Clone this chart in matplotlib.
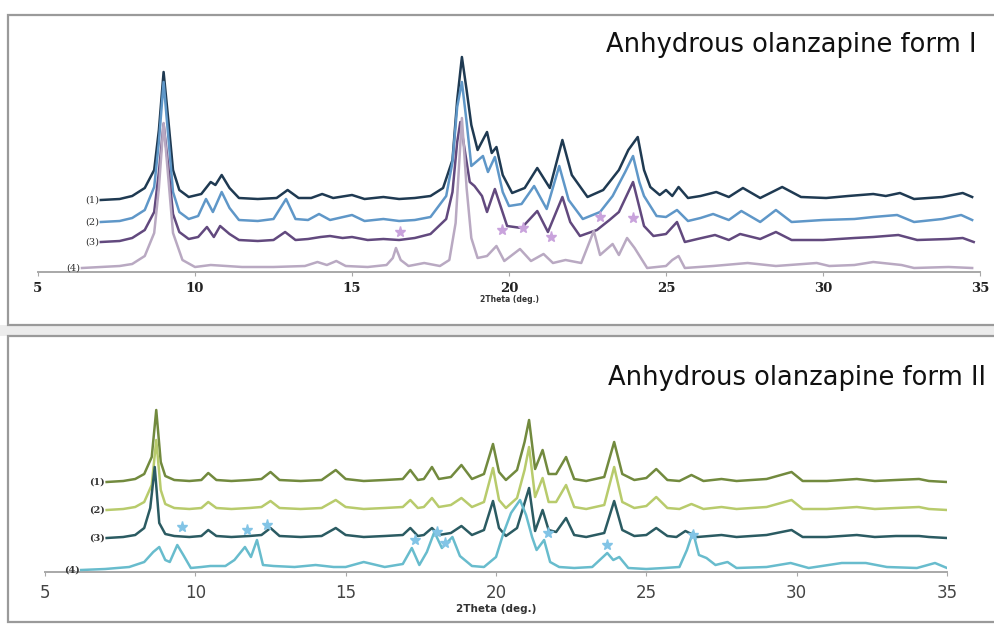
import numpy as np
import matplotlib
matplotlib.use("Agg")
import matplotlib.pyplot as plt
from matplotlib.patches import Rectangle

# ---- form I patterns: 2theta (deg) and intensity above each trace's baseline
f1_x1 = [7.0, 7.6, 8.0, 8.4, 8.7, 8.85, 9.0, 9.15, 9.3, 9.5, 9.8, 10.2, 10.5, 10.65, 10.85, 11.1, 11.4, 12.0,
         12.6, 12.95, 13.3, 13.7, 14.05, 14.4, 15.0, 15.4, 16.0, 16.5, 17.0, 17.5, 17.9, 18.2, 18.35, 18.5,
         18.65, 18.8, 19.0, 19.3, 19.45, 19.6, 19.8, 20.1, 20.5, 20.9, 21.3, 21.7, 22.0, 22.5, 23.0, 23.5,
         23.8, 24.1, 24.3, 24.5, 24.8, 25.0, 25.2, 25.4, 25.7, 26.1, 26.6, 27.0, 27.45, 28.0, 28.7, 29.3,
         30.1, 30.8, 31.6, 32.0, 32.45, 32.9, 33.8, 34.45, 34.75]
f1_y1 = [0, 1, 4, 12, 30, 70, 128, 80, 30, 10, 3, 6, 18, 15, 25, 12, 2, 1,
         2, 10, 2, 2, 6, 2, 5, 1, 3, 1, 2, 4, 12, 40, 100, 143,
         110, 75, 50, 68, 47, 53, 25, 7, 12, 32, 12, 60, 25, 3, 10, 30,
         50, 63, 30, 13, 5, 10, 4, 13, 2, 4, 8, 3, 12, 2, 13, 3,
         2, 4, 6, 4, 7, 1, 3, 7, 3]

f1_x2 = [7.0, 7.6, 8.0, 8.4, 8.7, 8.85, 9.0, 9.15, 9.3, 9.5, 9.8, 10.1, 10.35, 10.57, 10.85, 11.1, 11.4, 12.0,
         12.5, 12.9, 13.2, 13.6, 13.95, 14.3, 15.0, 15.4, 16.0, 16.5, 17.0, 17.5, 18.0, 18.2, 18.35, 18.5,
         18.65, 18.8, 19.17, 19.33, 19.55, 19.8, 20.0, 20.4, 20.8, 21.2, 21.6, 21.9, 22.35, 22.9, 23.3, 23.7,
         23.95, 24.15, 24.3, 24.7, 25.0, 25.35, 25.7, 26.1, 26.5, 27.0, 27.4, 28.0, 28.5, 29.0, 30.0, 31.0,
         31.6, 32.36, 32.9, 33.8, 34.4, 34.75]
f1_y2 = [0, 1, 4, 12, 35, 80, 140, 85, 30, 10, 3, 6, 23, 10, 30, 14, 2, 1,
         3, 23, 3, 2, 8, 2, 7, 1, 3, 1, 2, 5, 26, 60, 115, 140,
         100, 56, 66, 50, 65, 30, 16, 18, 36, 13, 56, 22, 3, 10, 26, 50,
         66, 40, 26, 6, 5, 12, 1, 4, 8, 2, 11, 0, 12, 0, 2, 3,
         5, 7, 0, 3, 7, 2]

f1_x3 = [7.0, 7.6, 8.0, 8.4, 8.7, 8.85, 9.0, 9.15, 9.3, 9.5, 9.8, 10.1, 10.38, 10.6, 10.8, 11.1, 11.4, 12.0,
         12.5, 12.87, 13.2, 13.6, 14.0, 14.3, 14.7, 15.0, 15.5, 16.0, 16.5, 17.0, 17.5, 18.0, 18.2, 18.35,
         18.45, 18.6, 18.75, 18.9, 19.14, 19.3, 19.55, 19.94, 20.4, 20.9, 21.24, 21.7, 21.95, 22.26, 22.8,
         23.2, 23.5, 23.95, 24.15, 24.3, 24.6, 25.0, 25.35, 25.6, 26.0, 26.56, 27.0, 27.36, 28.0, 28.5, 29.0,
         30.0, 31.0, 31.6, 32.4, 33.0, 34.0, 34.45, 34.8]
f1_y3 = [0, 1, 4, 12, 30, 70, 118, 75, 28, 10, 3, 5, 15, 5, 16, 8, 2, 1,
         2, 10, 2, 3, 5, 6, 4, 5, 2, 3, 2, 4, 8, 23, 50, 100,
         120, 90, 60, 56, 46, 30, 53, 16, 14, 31, 10, 45, 20, 6, 12,
         22, 30, 60, 35, 16, 6, 8, 20, 0, 3, 7, 2, 8, 3, 10, 2,
         2, 4, 5, 7, 2, 3, 4, 0]

f1_x4 = [6.4, 7.0, 7.6, 8.0, 8.4, 8.7, 8.85, 9.0, 9.15, 9.3, 9.6, 10.0, 10.5, 11.0, 11.5, 12.5, 13.5, 13.9,
         14.2, 14.5, 14.8, 15.5, 16.1, 16.3, 16.4, 16.55, 16.8, 17.3, 17.8, 18.1, 18.3, 18.5, 18.65, 18.8,
         19.0, 19.3, 19.6, 19.85, 20.35, 20.7, 21.1, 21.4, 21.8, 22.3, 22.7, 22.9, 23.3, 23.5, 23.76, 24.0,
         24.2, 24.4, 25.0, 25.2, 25.4, 25.6, 26.5, 27.6, 28.5, 29.8, 30.2, 31.0, 31.6, 32.5, 32.9, 34.0, 34.75]
f1_y4 = [0, 1, 2, 4, 12, 35, 80, 145, 90, 35, 8, 1, 3, 2, 1, 1, 2, 6,
         3, 7, 2, 1, 3, 10, 20, 8, 2, 5, 2, 8, 45, 150, 80, 30,
         10, 12, 22, 7, 19, 7, 14, 5, 8, 5, 37, 13, 24, 13, 30, 20,
         10, 0, 2, 8, 12, 0, 2, 5, 2, 5, 2, 3, 6, 3, 0, 1, 0]

# impurity reflections marked with stars (2theta, height)
f1_star_x = [16.53, 19.78, 20.45, 21.34, 22.9, 23.95]
f1_star_y = [40, 42, 44, 35, 55, 54]

# ---- form II patterns
f2_x1 = [7.05, 7.6, 8.0, 8.3, 8.55, 8.7, 8.85, 9.0, 9.3, 9.8, 10.2, 10.43, 10.7, 11.2, 11.8, 12.2, 12.5, 12.8,
         13.5, 14.2, 14.67, 15.0, 15.6, 16.3, 16.9, 17.15, 17.4, 17.6, 17.87, 18.1, 18.5, 18.85, 19.2, 19.6,
         19.9, 20.1, 20.33, 20.7, 20.95, 21.1, 21.3, 21.55, 21.75, 22.0, 22.33, 22.6, 23.0, 23.6, 23.93, 24.2,
         24.6, 25.0, 25.33, 25.7, 26.1, 26.5, 26.9, 27.5, 28.0, 29.0, 29.83, 30.2, 31.0, 32.0, 32.6, 33.3,
         34.07, 34.4, 35.0]
f2_y1 = [0, 1, 3, 8, 25, 72, 20, 6, 2, 1, 2, 9, 2, 1, 2, 3, 10, 2,
         1, 2, 12, 3, 1, 2, 3, 12, 2, 3, 15, 3, 5, 17, 3, 8,
         38, 10, 2, 12, 40, 62, 13, 32, 8, 8, 25, 3, 1, 5, 40, 8,
         2, 4, 13, 2, 1, 7, 1, 3, 1, 3, 10, 1, 1, 3, 1, 2,
         3, 1, 0]

f2_x2 = f2_x1
f2_y2 = [0, 1, 3, 8, 25, 70, 20, 6, 2, 1, 2, 8, 2, 1, 2, 3, 9, 2,
         1, 2, 10, 3, 1, 2, 3, 10, 2, 3, 12, 3, 5, 12, 3, 8,
         42, 10, 2, 12, 40, 63, 13, 32, 8, 8, 25, 3, 1, 5, 43, 8,
         2, 4, 13, 2, 1, 6, 1, 3, 1, 3, 10, 1, 1, 3, 1, 2,
         3, 1, 0]

f2_x3 = [7.05, 7.6, 8.0, 8.3, 8.5, 8.65, 8.8, 9.0, 9.3, 9.8, 10.2, 10.43, 10.7, 11.2, 11.8, 12.2, 12.5, 12.8,
         13.5, 14.2, 14.67, 15.0, 15.6, 16.3, 16.9, 17.15, 17.4, 17.6, 17.87, 18.1, 18.5, 18.85, 19.2, 19.6,
         19.9, 20.1, 20.33, 20.7, 20.95, 21.1, 21.3, 21.55, 21.75, 22.0, 22.33, 22.6, 23.0, 23.6, 23.93, 24.2,
         24.6, 25.0, 25.33, 25.7, 26.0, 26.3, 26.7, 27.5, 28.0, 29.0, 29.83, 30.2, 31.0, 32.0, 32.6, 33.3,
         34.07, 34.4, 35.0]
f2_y3 = [0, 1, 3, 10, 30, 71, 15, 4, 2, 1, 2, 8, 2, 1, 2, 3, 10, 2,
         1, 2, 10, 3, 1, 2, 3, 10, 2, 3, 10, 3, 5, 12, 3, 8,
         37, 10, 2, 10, 35, 50, 7, 28, 8, 6, 20, 3, 1, 5, 37, 8,
         2, 3, 10, 2, 1, 7, 1, 3, 1, 3, 8, 1, 1, 3, 1, 2,
         2, 1, 0]

f2_x4 = [6.2, 7.0, 7.8, 8.3, 8.6, 8.8, 9.0, 9.15, 9.4, 9.6, 9.85, 10.2, 10.5, 11.0, 11.3, 11.65, 11.85, 12.05,
         12.25, 12.6, 13.3, 14.0, 14.6, 15.0, 15.6, 16.3, 16.9, 17.2, 17.45, 17.7, 17.95, 18.2, 18.55, 18.8,
         19.2, 19.6, 20.0, 20.25, 20.5, 20.8, 21.0, 21.2, 21.35, 21.6, 21.8, 22.1, 22.6, 23.2, 23.7, 23.9,
         24.1, 24.4, 25.0, 25.6, 26.1, 26.35, 26.55, 26.75, 27.0, 27.3, 27.7, 28.0, 29.0, 29.8, 30.4, 31.5,
         32.3, 33.0, 34.0, 34.6, 35.0]
f2_y4 = [0, 1, 3, 8, 18, 23, 10, 8, 25, 15, 2, 3, 4, 4, 10, 23, 13, 30,
         5, 4, 3, 5, 3, 3, 8, 3, 6, 22, 5, 18, 38, 22, 33, 14,
         4, 3, 13, 37, 57, 70, 55, 33, 20, 30, 8, 3, 2, 3, 17, 10,
         13, 2, 1, 2, 3, 20, 38, 15, 12, 5, 8, 2, 3, 7, 2, 7,
         7, 3, 2, 7, 2]

f2_star_x = [9.56, 11.72, 12.38, 17.3, 18.04, 18.3, 21.73, 23.69, 26.55]
f2_star_y = [45, 42, 47, 32, 40, 29, 39, 27, 37]

ticks = [5, 10, 15, 20, 25, 30, 35]
labels = ["(1)", "(2)", "(3)", "(4)"]

W, H = 994, 628
fig = plt.figure(figsize=(W / 100, H / 100), dpi=100)
fig.patch.set_facecolor("white")


def px_box(x0, y0, x1, y1):
    # pixel rectangle (top-left origin) -> figure fraction [l, b, w, h]
    return [x0 / W, 1 - y1 / H, (x1 - x0) / W, (y1 - y0) / H]


# grey gap between the two panels plus the frames
fig.patches.append(Rectangle((0, 1 - 336 / H), 1, 11 / H, transform=fig.transFigure,
                             facecolor="#ececec", edgecolor="none", zorder=0))
for y0, y1 in [(15, 325), (336, 622)]:
    fig.patches.append(Rectangle((8 / W, 1 - y1 / H), 1.0, (y1 - y0) / H, transform=fig.transFigure,
                                 facecolor="white", edgecolor="#9a9a9a", lw=1.6, zorder=1))


def panel(box, ymax, traces, offsets, colors, sx, sy, star_col, big):
    ax = fig.add_axes(box)
    ax.set_zorder(2)
    ax.patch.set_alpha(0)
    for (x, y), off, c in zip(traces, offsets, colors):
        ax.plot(x, np.array(y) + off, color=c, lw=1.8, solid_joinstyle="round", zorder=3)
    for lab, off, (x, y) in zip(labels, offsets, traces):
        ax.text(x[0] - 0.05, off + y[0], lab, ha="right", va="center", fontsize=7,
                family="DejaVu Serif", fontweight="bold" if big else "normal", color="#333333")
    ax.plot(sx, sy, ls="none", marker="*", ms=8, color=star_col, zorder=4)
    ax.set_xlim(5, 35)
    ax.set_ylim(0, ymax)
    for s in ["top", "right", "left"]:
        ax.spines[s].set_visible(False)
    ax.spines["bottom"].set_color("#a8a8a8")
    ax.spines["bottom"].set_linewidth(1.4)
    ax.set_yticks([])
    ax.set_xticks(ticks)
    if big:
        ax.tick_params(axis="x", length=3, color="#a8a8a8", pad=6, labelsize=12, labelcolor="#444444")
        ax.set_xlabel("2Theta (deg.)", fontsize=7.5, fontweight="bold", color="#333333", labelpad=1)
    else:
        ax.tick_params(axis="x", length=3, color="#a8a8a8", pad=4, labelsize=9.5, labelcolor="#222222")
        for t in ax.get_xticklabels():
            t.set_family("DejaVu Serif")
            t.set_fontweight("bold")
        ax.set_xlabel("2Theta (deg.)", fontsize=5.5, fontweight="bold", color="#333333", labelpad=0)
    return ax


panel(px_box(38, 50, 980, 272), 222,
      [(f1_x1, f1_y1), (f1_x2, f1_y2), (f1_x3, f1_y3), (f1_x4, f1_y4)],
      [72, 50, 30, 4],
      ["#1f3a52", "#5f97c8", "#62497e", "#b9a9c2"],
      f1_star_x, f1_star_y, "#c9a3dc", False)

panel(px_box(45, 400, 947, 572), 172,
      [(f2_x1, f2_y1), (f2_x2, f2_y2), (f2_x3, f2_y3), (f2_x4, f2_y4)],
      [90, 62, 34, 2],
      ["#728a3e", "#b8cb6c", "#2b5b62", "#68bccd"],
      f2_star_x, f2_star_y, "#82c4e6", True)

fig.text(976 / W, 1 - 45 / H, "Anhydrous olanzapine form I", ha="right", va="center",
         fontsize=18.5, family="DejaVu Sans", color="#111111", zorder=5)
fig.text(986 / W, 1 - 378 / H, "Anhydrous olanzapine form II", ha="right", va="center",
         fontsize=18.5, family="DejaVu Sans", color="#111111", zorder=5)

fig.savefig("out.png", dpi=100)
